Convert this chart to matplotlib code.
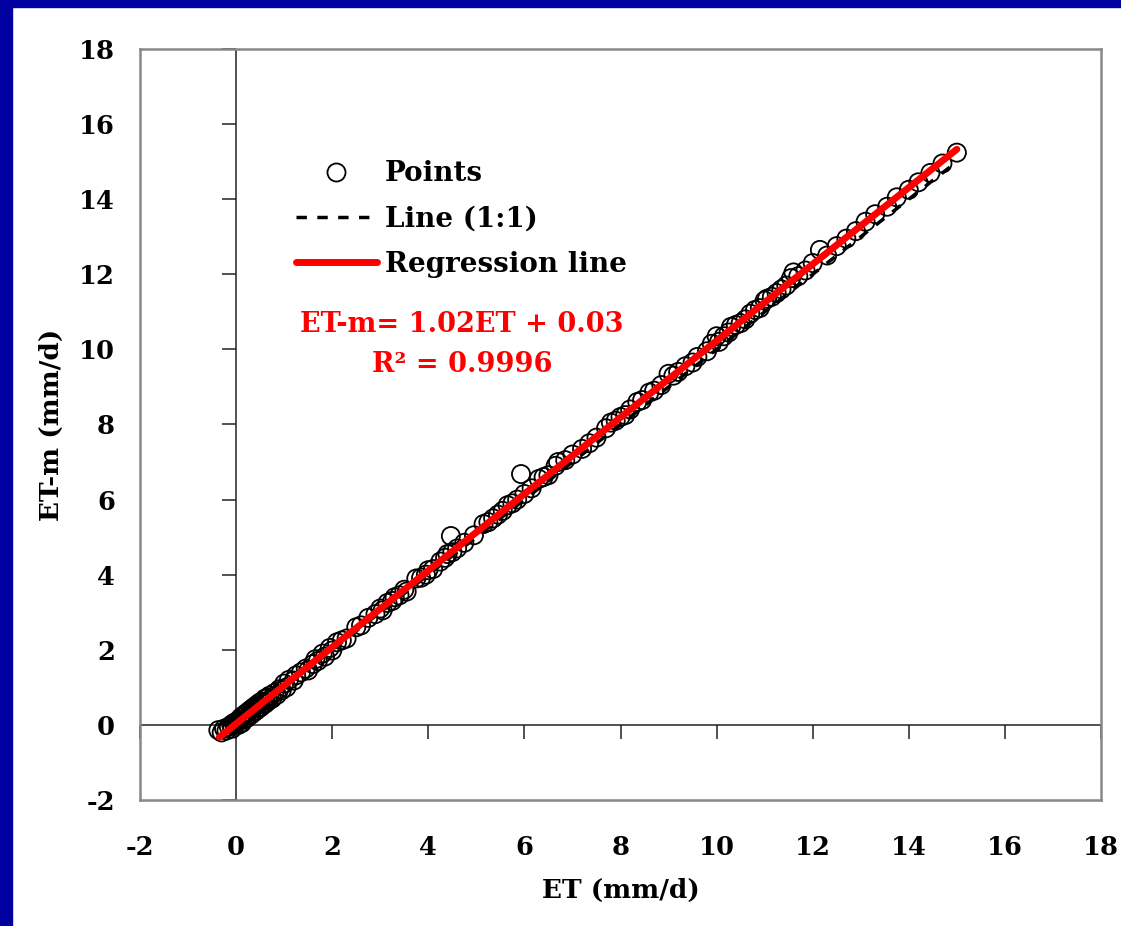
import matplotlib
matplotlib.use("Agg")
import matplotlib.pyplot as plt
from matplotlib.lines import Line2D
from matplotlib.patches import Rectangle
import numpy as np

# ---- data ----
et = [-0.37, -0.30, -0.25, -0.20, -0.15, -0.10, -0.08, -0.05, 0.00, 0.02, 0.05, 0.08, 0.10, 0.12,
      0.15, 0.18, 0.20, 0.22, 0.25, 0.28, 0.30, 0.32, 0.35, 0.38, 0.40, 0.42, 0.45, 0.48, 0.50,
      0.52, 0.55, 0.58, 0.60, 0.62, 0.65, 0.68, 0.70, 0.75, 0.80, 0.85, 0.90, 0.95, 1.00, 1.05,
      1.10, 1.20, 1.25, 1.35, 1.45, 1.50, 1.60, 1.65, 1.70, 1.80, 1.85, 1.95, 2.00, 2.10, 2.20,
      2.30, 2.50, 2.60, 2.75, 2.90, 3.00, 3.05, 3.15, 3.25, 3.30, 3.40, 3.50, 3.55, 3.75, 3.85,
      3.95, 4.00, 4.10, 4.25, 4.35, 4.40, 4.50, 4.47, 4.60, 4.75, 4.95, 5.15, 5.25, 5.35, 5.45,
      5.55, 5.65, 5.75, 5.85, 5.93, 6.00, 6.15, 6.30, 6.40, 6.50, 6.65, 6.70, 6.85, 7.00, 7.20,
      7.35, 7.50, 7.70, 7.80, 7.90, 8.00, 8.10, 8.20, 8.35, 8.45, 8.60, 8.70, 8.85, 9.00, 9.10,
      9.20, 9.35, 9.50, 9.60, 9.80, 9.90, 10.00, 10.05, 10.15, 10.25, 10.30, 10.40, 10.50, 10.60,
      10.70, 10.80, 10.90, 11.00, 11.05, 11.15, 11.25, 11.35, 11.45, 11.55, 11.60, 11.70, 11.85,
      12.00, 12.15, 12.30, 12.50, 12.70, 12.90, 13.10, 13.30, 13.55, 13.75, 14.00, 14.20, 14.45,
      14.70, 15.00]
et_m = [-0.14, -0.20, -0.10, -0.15, -0.05, 0.00, -0.10, 0.05, 0.02, 0.10, 0.00, 0.12, 0.20, 0.05,
        0.25, 0.15, 0.30, 0.18, 0.35, 0.25, 0.40, 0.28, 0.45, 0.35, 0.50, 0.38, 0.55, 0.45, 0.60,
        0.48, 0.62, 0.55, 0.70, 0.58, 0.72, 0.65, 0.78, 0.70, 0.85, 0.80, 0.95, 0.92, 1.10, 1.00,
        1.20, 1.18, 1.32, 1.40, 1.50, 1.45, 1.62, 1.75, 1.70, 1.90, 1.82, 2.05, 1.98, 2.20, 2.25,
        2.30, 2.60, 2.65, 2.85, 2.95, 3.10, 3.05, 3.25, 3.30, 3.40, 3.45, 3.60, 3.55, 3.90, 3.92,
        4.00, 4.12, 4.15, 4.35, 4.45, 4.55, 4.60, 5.03, 4.70, 4.85, 5.05, 5.35, 5.40, 5.50, 5.60,
        5.70, 5.85, 5.90, 6.00, 6.68, 6.15, 6.30, 6.55, 6.60, 6.65, 6.90, 7.00, 7.05, 7.20, 7.35,
        7.50, 7.65, 7.90, 8.05, 8.10, 8.20, 8.25, 8.40, 8.60, 8.65, 8.85, 8.90, 9.05, 9.35, 9.30,
        9.40, 9.55, 9.65, 9.80, 9.95, 10.15, 10.35, 10.20, 10.35, 10.45, 10.60, 10.65, 10.70, 10.80,
        10.95, 11.05, 11.10, 11.30, 11.35, 11.40, 11.50, 11.60, 11.70, 11.90, 12.05, 11.95, 12.10,
        12.30, 12.65, 12.50, 12.75, 12.95, 13.15, 13.40, 13.60, 13.80, 14.05, 14.25, 14.45, 14.70,
        14.95, 15.24]

line_x = [-0.35, 15.0]
slope = 1.02
intercept = 0.03
r2 = 0.9996

ticks = [-2, 0, 2, 4, 6, 8, 10, 12, 14, 16, 18]
tick_labels = [str(t) for t in ticks]

# ---- figure ----
W, H = 1121, 926
plt.rcParams['font.family'] = ['DejaVu Serif']
plt.rcParams['font.weight'] = 'bold'
fig = plt.figure(figsize=(W / 100, H / 100), dpi=100)
fig.patch.set_facecolor('white')

# blue frame strips (left and top)
blue = '#0000A0'
fig.patches.append(Rectangle((0, 0), 12 / W, 1, transform=fig.transFigure, color=blue, zorder=0))
fig.patches.append(Rectangle((0, 1 - 7 / H), 1, 7 / H, transform=fig.transFigure, color=blue, zorder=0))

ax = fig.add_axes([140 / W, 1 - 800 / H, (1101 - 140) / W, (800 - 49) / H])
ax.set_xlim(-2, 18)
ax.set_ylim(-2, 18)
for s in ax.spines.values():
    s.set_color('#888888')
    s.set_linewidth(1.8)

ax.set_xticks(ticks)
ax.set_xticklabels(tick_labels)
ax.set_yticks(ticks)
ax.set_yticklabels(tick_labels)
ax.tick_params(axis='both', length=0, labelsize=18.5)
ax.tick_params(axis='x', pad=25)
ax.tick_params(axis='y', pad=18)
for lab in ax.get_xticklabels() + ax.get_yticklabels():
    lab.set_fontweight('bold')

# crossing axes at zero with outward tick marks
ax.axhline(0, color='#222222', lw=1.1, zorder=1)
ax.axvline(0, color='#222222', lw=1.1, zorder=1)
ax.plot(ticks, [0] * len(ticks), ls='none', marker=3, ms=10, mew=1.1, color='#222222', zorder=1, clip_on=False)
ax.plot([0] * len(ticks), ticks, ls='none', marker=0, ms=10, mew=1.1, color='#222222', zorder=1, clip_on=False)

# points
ax.scatter(et, et_m, s=170, facecolors='none', edgecolors='black', linewidths=1.3, zorder=3)
# 1:1 line
ax.plot(line_x, line_x, ls=(0, (3, 3)), color='black', lw=2.5, zorder=4)
# regression line
reg_y = [slope * x + intercept for x in line_x]
ax.plot(line_x, reg_y, color='red', lw=5, solid_capstyle='round', zorder=5)

ax.set_xlabel('ET (mm/d)', fontsize=19, fontweight='bold', labelpad=13)
ax.set_ylabel('ET-m (mm/d)', fontsize=19, fontweight='bold', labelpad=11)

handles = [
    Line2D([], [], ls='none', marker='o', ms=13, mfc='none', mec='black', mew=1.3),
    Line2D([], [], ls=(0, (3, 3)), color='black', lw=2.5),
    Line2D([], [], color='red', lw=5, solid_capstyle='round'),
]
labels = ['Points', 'Line (1:1)', 'Regression line']
leg = fig.legend(handles, labels, loc='center left', bbox_to_anchor=(296 / W, 1 - 219 / H),
                 frameon=False, fontsize=20, handlelength=2.9, handletextpad=0.29,
                 labelspacing=0.65, borderpad=0, borderaxespad=0, numpoints=1)
for t in leg.get_texts():
    t.set_fontweight('bold')

fig.text(462 / W, 1 - 325 / H, f'ET-m= {slope:.2f}ET + {intercept:.2f}', color='red',
         fontsize=19.5, fontweight='bold', ha='center', va='center')
fig.text(462 / W, 1 - 364 / H, f'R² = {r2}', color='red',
         fontsize=19.5, fontweight='bold', ha='center', va='center')

fig.savefig('out.png', dpi=100, facecolor='white')
